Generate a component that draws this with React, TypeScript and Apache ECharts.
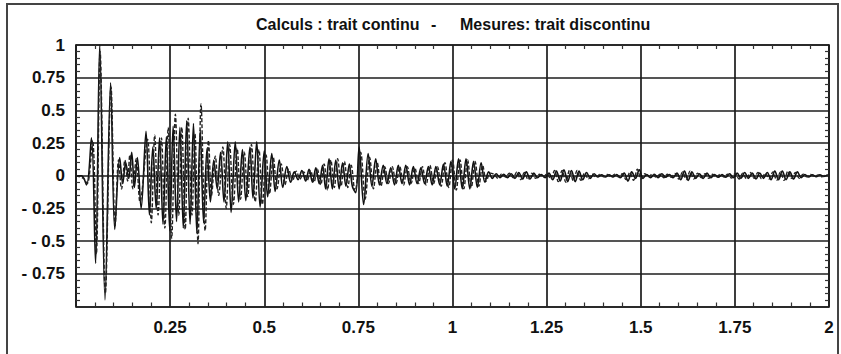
import React, { useEffect, useRef } from "react";
import * as echarts from "echarts";

// ---- Tick labels ----
const xTickValues = [0.25, 0.5, 0.75, 1, 1.25, 1.5, 1.75, 2];
const yTickValues = [1, 0.75, 0.5, 0.25, 0, -0.25, -0.5, -0.75];

// ---- Calculs (trait continu): [time s, value] extrema ----
const calcOnset: number[][] = [
  [0, 0], [0.015, 0.0], [0.028, -0.07], [0.041, 0.29], [0.052, -0.67], [0.063, 1.0],
  [0.077, -0.95], [0.092, 0.71], [0.103, -0.41], [0.116, 0.14], [0.124, -0.06],
  [0.132, 0.1], [0.14, -0.02], [0.148, 0.18], [0.155, -0.09], [0.163, 0.14], [0.173, -0.25],
];
const calcBurst: number[][] = [
  [0.186, 0.34], [0.195, -0.3], [0.204, 0.22], [0.213, -0.25], [0.222, 0.29], [0.231, -0.37],
  [0.24, 0.3], [0.249, -0.42], [0.258, 0.38], [0.267, -0.35], [0.276, 0.37], [0.285, -0.4],
  [0.294, 0.42], [0.303, -0.37], [0.312, 0.4], [0.321, -0.44], [0.33, 0.35], [0.339, -0.36],
  [0.348, 0.21], [0.357, -0.2],
];
const calcDecay: number[][] = [
  [0.366, 0.12], [0.375, -0.1], [0.384, 0.18], [0.393, -0.2], [0.403, 0.26], [0.412, -0.28],
  [0.423, 0.26], [0.432, -0.2], [0.442, 0.2], [0.451, -0.19], [0.462, 0.22], [0.47, -0.17],
  [0.48, 0.26], [0.489, -0.24], [0.5, 0.19], [0.509, -0.16], [0.52, 0.17], [0.529, -0.12],
  [0.54, 0.12], [0.549, -0.09], [0.56, 0.07], [0.57, -0.05],
];
const calcMid: number[][] = [
  [0.58, 0.03], [0.59, -0.03], [0.6, 0.04], [0.61, -0.04], [0.619, 0.05], [0.628, -0.05],
  [0.637, 0.06], [0.646, -0.06], [0.655, 0.08], [0.663, -0.1], [0.672, 0.13], [0.681, -0.1],
  [0.69, 0.12], [0.699, -0.1], [0.708, 0.1], [0.717, -0.08], [0.726, 0.09], [0.734, -0.08],
  [0.743, -0.13],
];
const calcSecond: number[][] = [
  [0.752, 0.22], [0.764, -0.22], [0.776, 0.17], [0.786, -0.08], [0.796, 0.13], [0.806, -0.07],
  [0.816, 0.08], [0.826, -0.06], [0.836, 0.06], [0.846, -0.07], [0.856, 0.08], [0.866, -0.06],
  [0.876, 0.08], [0.886, -0.07], [0.896, 0.07], [0.906, -0.06], [0.916, 0.06], [0.926, -0.06],
  [0.936, 0.07], [0.946, -0.07], [0.956, 0.07], [0.966, -0.07], [0.976, 0.09], [0.986, -0.08],
  [0.996, 0.11], [1.006, -0.1], [1.016, 0.13], [1.026, -0.1], [1.036, 0.13], [1.046, -0.1],
  [1.056, 0.11], [1.066, -0.09], [1.076, 0.1], [1.086, -0.05], [1.096, 0.03], [1.106, -0.02],
];
const calcTail: number[][] = [
  [1.116, 0.015], [1.126, -0.015], [1.136, 0.012], [1.146, -0.015], [1.156, 0.015], [1.166, -0.02],
  [1.176, 0.025], [1.186, -0.025], [1.196, 0.03], [1.206, -0.025], [1.216, 0.02], [1.226, -0.015],
  [1.236, 0.01], [1.246, -0.015], [1.256, 0.02], [1.266, -0.03], [1.276, 0.035], [1.286, -0.04],
  [1.296, 0.045], [1.306, -0.045], [1.316, 0.04], [1.326, -0.045], [1.336, 0.035], [1.346, -0.03],
  [1.356, 0.025], [1.366, -0.02], [1.376, 0.015], [1.386, -0.01], [1.396, 0.008], [1.406, -0.01],
  [1.416, 0.008], [1.426, -0.01], [1.436, 0.01], [1.446, -0.015], [1.456, 0.02], [1.466, -0.04],
  [1.476, 0.03], [1.486, -0.02], [1.496, 0.045], [1.506, -0.02], [1.516, 0.01], [1.526, -0.015],
  [1.536, 0.012], [1.546, -0.015], [1.556, 0.015], [1.566, -0.012], [1.576, 0.01], [1.586, -0.015],
  [1.596, 0.02], [1.606, -0.03], [1.616, 0.035], [1.626, -0.035], [1.636, 0.03], [1.646, -0.02],
  [1.656, 0.015], [1.666, -0.02], [1.676, 0.02], [1.686, -0.015], [1.696, 0.01], [1.706, -0.012],
  [1.716, 0.01], [1.726, -0.012], [1.736, 0.015], [1.746, -0.015], [1.756, 0.02], [1.766, -0.02],
  [1.776, 0.025], [1.786, -0.02], [1.796, 0.02], [1.806, -0.025], [1.816, 0.02], [1.826, -0.02],
  [1.836, 0.025], [1.846, -0.03], [1.856, 0.035], [1.866, -0.03], [1.876, 0.035], [1.886, -0.03],
  [1.896, 0.03], [1.906, -0.025], [1.916, 0.03], [1.926, -0.015], [1.936, 0.01], [1.946, -0.01],
  [1.956, 0.008], [1.966, -0.008], [1.976, 0.008], [1.986, -0.006], [1.996, 0.005], [2.0, 0],
];

// ---- Mesures (trait discontinu) ----
const measOnset: number[][] = [
  [0, 0], [0.02, -0.02], [0.03, -0.06], [0.044, 0.27], [0.054, -0.6], [0.064, 0.95],
  [0.078, -0.9], [0.093, 0.68], [0.104, -0.38], [0.113, 0.12], [0.121, -0.1], [0.13, 0.12],
  [0.137, -0.04], [0.143, 0.16], [0.151, -0.1], [0.16, 0.13], [0.17, -0.2],
];
const measBurst: number[][] = [
  [0.19, 0.28], [0.2, -0.36], [0.209, 0.31], [0.218, -0.3], [0.227, 0.29], [0.236, -0.4],
  [0.245, 0.37], [0.254, -0.48], [0.264, 0.47], [0.273, -0.3], [0.281, 0.37], [0.29, -0.41],
  [0.298, 0.44], [0.308, -0.3], [0.316, 0.32], [0.324, -0.52], [0.332, 0.55], [0.343, -0.42],
  [0.352, 0.27], [0.36, -0.15],
];
const measDecay: number[][] = [
  [0.37, 0.15], [0.379, -0.15], [0.39, 0.22], [0.399, -0.25], [0.408, 0.24], [0.418, -0.22],
  [0.428, 0.21], [0.437, -0.18], [0.447, 0.18], [0.456, -0.16], [0.466, 0.24], [0.476, -0.2],
  [0.486, 0.2], [0.495, -0.22], [0.505, 0.16], [0.514, -0.14], [0.524, 0.14], [0.534, -0.1],
  [0.545, 0.09], [0.555, -0.07], [0.565, 0.05], [0.575, -0.04],
];
const measMid: number[][] = [
  [0.585, 0.035], [0.595, -0.025], [0.605, 0.03], [0.614, -0.035], [0.623, 0.04], [0.632, -0.05],
  [0.641, 0.05], [0.65, -0.07], [0.659, 0.09], [0.668, -0.11], [0.677, 0.12], [0.686, -0.09],
  [0.695, 0.13], [0.704, -0.08], [0.713, 0.11], [0.722, -0.09], [0.731, 0.08], [0.741, -0.12],
];
const measSecond: number[][] = [
  [0.756, 0.18], [0.768, -0.18], [0.78, 0.14], [0.79, -0.1], [0.8, 0.1], [0.81, -0.08],
  [0.82, 0.07], [0.83, -0.06], [0.84, 0.07], [0.85, -0.06], [0.86, 0.07], [0.87, -0.07],
  [0.88, 0.07], [0.89, -0.06], [0.9, 0.06], [0.91, -0.06], [0.92, 0.07], [0.93, -0.07],
  [0.94, 0.08], [0.95, -0.06], [0.96, 0.07], [0.97, -0.08], [0.98, 0.1], [0.99, -0.09],
  [1.0, 0.12], [1.01, -0.11], [1.02, 0.12], [1.03, -0.1], [1.04, 0.12], [1.05, -0.09],
  [1.06, 0.11], [1.07, -0.08], [1.08, 0.08], [1.09, -0.04], [1.1, 0.02],
];
const measTail: number[][] = [
  [1.111, 0.01], [1.121, -0.02], [1.131, 0.015], [1.141, -0.01], [1.151, 0.02], [1.161, -0.015],
  [1.171, 0.03], [1.181, -0.03], [1.191, 0.025], [1.201, -0.03], [1.211, 0.02], [1.221, -0.02],
  [1.231, 0.012], [1.241, -0.01], [1.251, 0.015], [1.261, -0.025], [1.271, 0.04], [1.281, -0.045],
  [1.291, 0.04], [1.301, -0.05], [1.311, 0.045], [1.321, -0.04], [1.331, 0.04], [1.341, -0.035],
  [1.351, 0.02], [1.361, -0.025], [1.371, 0.012], [1.381, -0.012], [1.391, 0.01], [1.401, -0.008],
  [1.411, 0.01], [1.421, -0.008], [1.431, 0.012], [1.441, -0.01], [1.451, 0.015], [1.461, -0.03],
  [1.471, 0.025], [1.481, -0.035], [1.491, 0.05], [1.501, -0.025], [1.511, 0.015], [1.521, -0.01],
  [1.531, 0.015], [1.541, -0.012], [1.551, 0.012], [1.561, -0.015], [1.571, 0.012], [1.581, -0.012],
  [1.591, 0.018], [1.601, -0.025], [1.611, 0.03], [1.621, -0.03], [1.631, 0.035], [1.641, -0.025],
  [1.651, 0.02], [1.661, -0.015], [1.671, 0.015], [1.681, -0.02], [1.691, 0.012], [1.701, -0.01],
  [1.711, 0.012], [1.721, -0.01], [1.731, 0.012], [1.741, -0.018], [1.751, 0.018], [1.761, -0.025],
  [1.771, 0.02], [1.781, -0.025], [1.791, 0.025], [1.801, -0.02], [1.811, 0.025], [1.821, -0.025],
  [1.831, 0.02], [1.841, -0.025], [1.851, 0.03], [1.861, -0.035], [1.871, 0.03], [1.881, -0.035],
  [1.891, 0.035], [1.901, -0.02], [1.911, 0.025], [1.921, -0.02], [1.931, 0.012], [1.941, -0.008],
  [1.951, 0.01], [1.961, -0.006], [1.971, 0.006], [1.981, -0.008], [1.991, 0.004], [2.0, 0],
];

const calcData = [...calcOnset, ...calcBurst, ...calcDecay, ...calcMid, ...calcSecond, ...calcTail];
const measData = [...measOnset, ...measBurst, ...measDecay, ...measMid, ...measSecond, ...measTail];

const FONT = "'Liberation Sans', Arial, Helvetica, sans-serif";
const INK = "#1c1c1c";

export default function App() {
  const ref = useRef<HTMLDivElement>(null);
  useEffect(() => {
    document.body.style.margin = "0";
    if (!ref.current) return;
    const chart = echarts.init(ref.current, undefined, { renderer: "svg" });

    const xLabel = (v: number) => (xTickValues.includes(Number(v.toFixed(2))) ? String(v) : "");
    const yLabel = (v: number) => {
      const r = Number(v.toFixed(2));
      if (!yTickValues.includes(r)) return "";
      return r < 0 ? "- " + String(Math.abs(r)) : String(r);
    };
    const lineStyle = { color: INK, width: 1.7 };
    const minorTick = { show: true, splitNumber: 5, length: 4, lineStyle: { color: "#333", width: 1.2 } };
    const labelStyle = { color: "#111", fontFamily: FONT, fontSize: 17, fontWeight: "bold" as const };

    chart.setOption({
      animation: false,
      backgroundColor: "#fff",
      grid: { left: 76, top: 45, width: 753, height: 261.5, show: false },
      xAxis: [
        {
          type: "value", min: 0, max: 2, interval: 0.25, position: "bottom",
          axisLine: { show: true, onZero: false, lineStyle },
          axisTick: { show: false, inside: true },
          minorTick,
          splitLine: { show: true, lineStyle },
          axisLabel: { ...labelStyle, margin: 12, formatter: xLabel },
        },
        {
          type: "value", min: 0, max: 2, interval: 0.25, position: "top",
          axisLine: { show: true, onZero: false, lineStyle },
          axisTick: { show: false, inside: true },
          minorTick,
          splitLine: { show: false },
          axisLabel: { show: false },
        },
      ],
      yAxis: [
        {
          type: "value", min: -1, max: 1, interval: 0.25, position: "left",
          axisLine: { show: true, onZero: false, lineStyle },
          axisTick: { show: false, inside: true },
          minorTick,
          splitLine: { show: true, lineStyle },
          axisLabel: { ...labelStyle, margin: 11, formatter: yLabel },
        },
        {
          type: "value", min: -1, max: 1, interval: 0.25, position: "right",
          axisLine: { show: true, onZero: false, lineStyle },
          axisTick: { show: false, inside: true },
          minorTick,
          splitLine: { show: false },
          axisLabel: { show: false },
        },
      ],
      graphic: [
        {
          type: "rect", silent: true, z: 0,
          shape: { x: 7, y: 4, width: 831, height: 400 },
          style: { fill: "none", stroke: "#444", lineWidth: 2 },
        },
        {
          type: "text", x: 256, y: 24,
          style: { text: "Calculs : trait continu", fill: "#111", font: `bold 16px ${FONT}`, textAlign: "left", textVerticalAlign: "middle" },
        },
        {
          type: "text", x: 431, y: 24,
          style: { text: "-", fill: "#111", font: `bold 16px ${FONT}`, textAlign: "left", textVerticalAlign: "middle" },
        },
        {
          type: "text", x: 460, y: 24,
          style: { text: "Mesures: trait discontinu", fill: "#111", font: `bold 16px ${FONT}`, textAlign: "left", textVerticalAlign: "middle" },
        },
      ],
      series: [
        {
          name: "Calculs", type: "line", xAxisIndex: 0, yAxisIndex: 0,
          data: calcData, showSymbol: false, smooth: 0.35, z: 3,
          lineStyle: { color: "#111", width: 1.6 },
        },
        {
          name: "Mesures", type: "line", xAxisIndex: 0, yAxisIndex: 0,
          data: measData, showSymbol: false, smooth: 0.35, z: 4,
          lineStyle: { color: "#222", width: 1.4, type: [4, 2] },
        },
      ],
    });
    return () => chart.dispose();
  }, []);
  return <div ref={ref} style={{ width: 841, height: 354 }} />;
}
